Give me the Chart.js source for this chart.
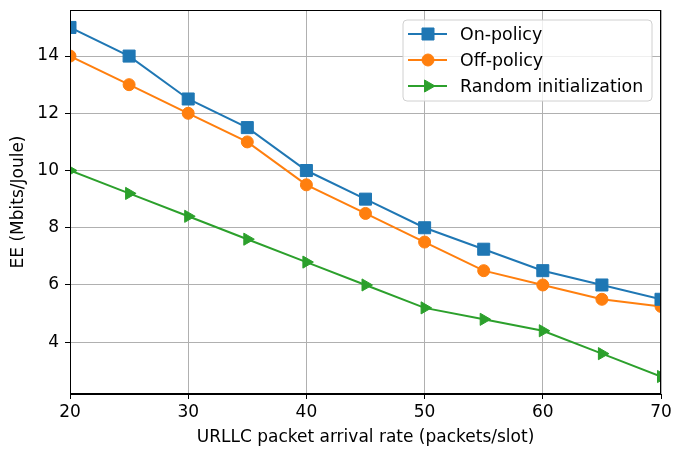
<!DOCTYPE html>
<html>
<head>
<meta charset="utf-8">
<script src="https://cdn.jsdelivr.net/npm/chart.js@4/dist/chart.umd.min.js"></script>
<style>
  html, body { margin: 0; padding: 0; background: #fff; }
  #wrap { width: 673px; height: 449px; }
</style>
</head>
<body>
<div id="wrap"><canvas id="c" width="673" height="449"></canvas></div>
<script>
// data
const arrivalRates = [20, 25, 30, 35, 40, 45, 50, 55, 60, 65, 70]
const onPolicy = [15, 14, 12.5, 11.5, 10, 9, 8, 7.25, 6.5, 6, 5.5]
const offPolicy = [14, 13, 12, 11, 9.5, 8.5, 7.5, 6.5, 6, 5.5, 5.25]
const randomInit = [10, 9.2, 8.4, 7.6, 6.8, 6.0, 5.2, 4.8, 4.4, 3.6, 2.8]
const xTicks = [20, 30, 40, 50, 60, 70]
const yTicks = [4, 6, 8, 10, 12, 14]

const FONT = "'DejaVu Sans', sans-serif"
const FS = 17

function pts(ys) {
  return arrivalRates.map((x, i) => ({ x: x, y: ys[i] }))
}

function series(label, ys, color, style, radius, rot) {
  return {
    label: label,
    data: pts(ys),
    borderColor: color,
    backgroundColor: color,
    borderWidth: 2,
    pointStyle: style,
    pointRadius: radius,
    pointHoverRadius: radius,
    pointRotation: rot || 0,
    pointBorderWidth: 1,
    tension: 0,
    clip: 0,
  }
}

// frame on all four sides + legend box in upper right
const framePlugin = {
  id: "frame",
  afterDatasetsDraw(chart) {
    const { ctx, chartArea: a } = chart
    ctx.save()
    ctx.strokeStyle = "#000"
    ctx.lineWidth = 1
    ctx.strokeRect(a.left + 0.5, a.top + 0.5, a.right - a.left - 1, a.bottom - a.top - 1)

    // legend
    const bx = 403, by = 20, bw = 249, bh = 81, r = 4
    ctx.beginPath()
    ctx.moveTo(bx + r, by)
    ctx.arcTo(bx + bw, by, bx + bw, by + bh, r)
    ctx.arcTo(bx + bw, by + bh, bx, by + bh, r)
    ctx.arcTo(bx, by + bh, bx, by, r)
    ctx.arcTo(bx, by, bx + bw, by, r)
    ctx.closePath()
    ctx.fillStyle = "rgba(255,255,255,0.8)"
    ctx.fill()
    ctx.strokeStyle = "#d0d0d0"
    ctx.stroke()

    chart.data.datasets.forEach((ds, i) => {
      const y = 34 + i * 26
      ctx.strokeStyle = ds.borderColor
      ctx.lineWidth = 2
      ctx.beginPath()
      ctx.moveTo(408, y)
      ctx.lineTo(447, y)
      ctx.stroke()
      ctx.fillStyle = ds.backgroundColor
      ctx.lineWidth = 1
      Chart.helpers.drawPoint(ctx, {
        pointStyle: ds.pointStyle,
        radius: ds.pointRadius,
        rotation: ds.pointRotation,
        borderWidth: 1,
      }, 428, y)
      ctx.fillStyle = "#000"
      ctx.font = "17.4px " + FONT
      ctx.textAlign = "left"
      ctx.textBaseline = "middle"
      ctx.fillText(ds.label, 460, y + 1)
    })
    ctx.restore()
  },
}

new Chart(document.getElementById("c"), {
  type: "line",
  data: {
    datasets: [
      series("On-policy", onPolicy, "#1f77b4", "rect", 8.5),
      series("Off-policy", offPolicy, "#ff7f0e", "circle", 6),
      series("Random initialization", randomInit, "#2ca02c", "triangle", 7, 90),
    ],
  },
  options: {
    responsive: false,
    animation: false,
    layout: { padding: { top: 10, right: 12, left: 0, bottom: 0 } },
    plugins: {
      legend: { display: false },
      tooltip: { enabled: false },
    },
    scales: {
      x: {
        type: "linear",
        min: 20,
        max: 70,
        afterBuildTicks: (s) => { s.ticks = xTicks.map((v) => ({ value: v })) },
        afterFit: (s) => { s.height = 55; s.paddingLeft = 0; s.paddingRight = 0 },
        grid: { color: "#b0b0b0", lineWidth: 1, tickLength: 5, tickColor: "#000" },
        border: { color: "#000", width: 1 },
        ticks: { color: "#000", font: { family: FONT, size: FS }, padding: 3, maxRotation: 0 },
        title: {
          display: true,
          text: "URLLC packet arrival rate (packets/slot)",
          color: "#000",
          font: { family: FONT, size: FS },
          padding: { top: 1, bottom: 1 },
        },
      },
      y: {
        type: "linear",
        min: 2.19,
        max: 15.61,
        afterBuildTicks: (s) => { s.ticks = yTicks.map((v) => ({ value: v })) },
        afterFit: (s) => { s.width = 70; s.paddingTop = 0; s.paddingBottom = 0 },
        grid: { color: "#b0b0b0", lineWidth: 1, tickLength: 5, tickColor: "#000" },
        border: { color: "#000", width: 1 },
        ticks: { color: "#000", font: { family: FONT, size: FS }, padding: 6 },
        title: {
          display: true,
          text: "EE (Mbits/Joule)",
          color: "#000",
          font: { family: FONT, size: FS },
          padding: { top: 8, bottom: 3 },
        },
      },
    },
  },
  plugins: [framePlugin],
})
</script>
</body>
</html>
